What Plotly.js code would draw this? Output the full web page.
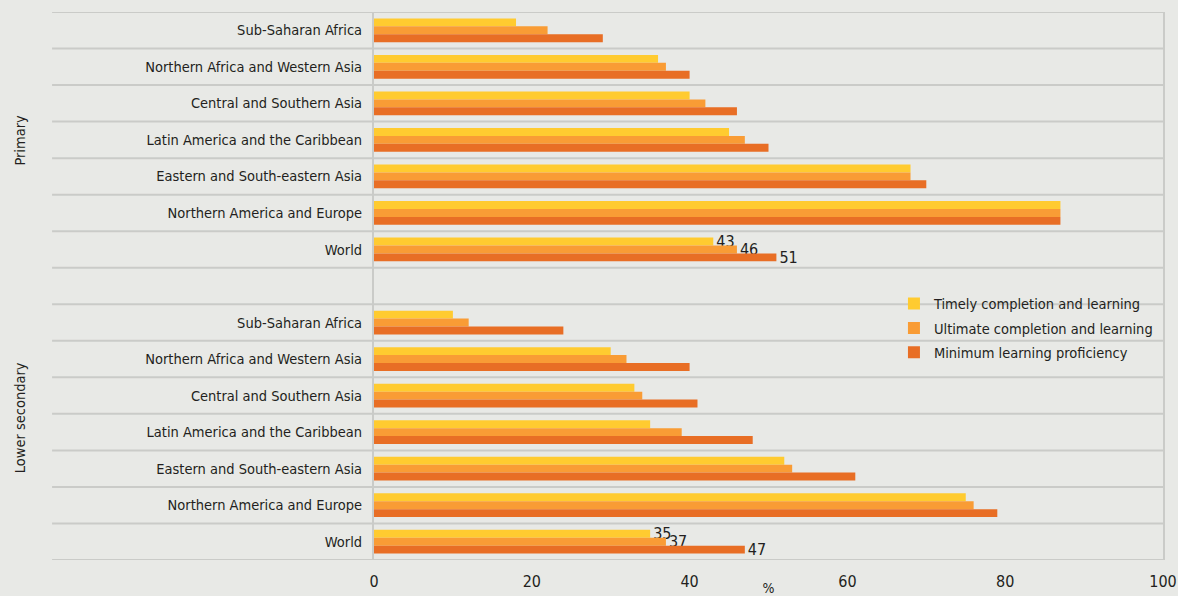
<!DOCTYPE html>
<html><head><meta charset="utf-8">
<script src="https://cdn.plot.ly/plotly-3.0.1.min.js"></script>
<style>html,body{margin:0;padding:0;background:#e8e9e6;}</style>
</head><body><div id="chart" style="width:1178px;height:596px;"></div>
<script>
const regions = ["Sub-Saharan Africa","Northern Africa and Western Asia","Central and Southern Asia","Latin America and the Caribbean","Eastern and South-eastern Asia","Northern America and Europe","World"];
const levels = ["Primary","Lower secondary"];
const seriesNames = ["Timely completion and learning","Ultimate completion and learning","Minimum learning proficiency"];
const primaryTimely   = [18,36,40,45,68,87,43];
const primaryUltimate = [22,37,42,47,68,87,46];
const primaryMinimum  = [29,40,46,50,70,87,51];
const lowerTimely     = [10,30,33,35,52,75,35];
const lowerUltimate   = [12,32,34,39,53,76,37];
const lowerMinimum    = [24,40,41,48,61,79,47];
const xTicks = [0,20,40,60,80,100];
const labelledRegion = "World";

const colors = ["#ffcb30","#f99c35","#e86e25"];
const labelFont = "DejaVu Sans Condensed, DejaVu Sans, sans-serif";
const numFont = "DejaVu Sans Condensed, DejaVu Sans, sans-serif";
const textColor = "#231f20";
const gridColor = "#cacbc8";

const bySeries = [
  [primaryTimely, lowerTimely],
  [primaryUltimate, lowerUltimate],
  [primaryMinimum, lowerMinimum]
];
const step = regions.length + 1;
const rowPos = [], rowText = [];
levels.forEach((lv, li) => regions.forEach((r, i) => { rowPos.push(li*step + i); rowText.push(r); }));
const lastRow = rowPos[rowPos.length - 1];

const traces = seriesNames.map((name, s) => {
  const x = [].concat(...bySeries[s]);
  const txt = x.map((v, k) => rowText[k] === labelledRegion ? String(v) : "");
  return {
    type: "bar", orientation: "h", name: name, legendgroup: "g" + s,
    x: x, y: rowPos, text: txt, textposition: "outside", cliponaxis: false,
    constraintext: "none",
    textfont: {family: numFont, size: 16, color: textColor},
    marker: {color: colors[s], line: {width: 0}},
    hoverinfo: "x+name"
  };
});

const shapes = [];
for (let k = 0; k <= lastRow + 1; k++) {
  shapes.push({type: "line", xref: "paper", yref: "y", x0: -0.408, x1: 1, y0: k - 0.5, y1: k - 0.5,
    line: {color: gridColor, width: 2}, layer: "below"});
}

const annotations = [
  {text: levels[0], xref: "paper", yref: "y", x: -0.449, xanchor: "center", y: (regions.length-1)/2, textangle: -90, showarrow: false,
   font: {family: labelFont, size: 14.5, color: textColor}},
  {text: levels[1], xref: "paper", yref: "y", x: -0.449, xanchor: "center", y: step + (regions.length-1)/2 - 0.4, textangle: -90, showarrow: false,
   font: {family: labelFont, size: 14.5, color: textColor}}
];

const layout = {
  width: 1178, height: 596,
  margin: {l: 374, r: 15, t: 12, b: 36, autoexpand: false},
  paper_bgcolor: "#e8e9e6", plot_bgcolor: "#e8e9e6",
  barmode: "group", bargap: 0.35, bargroupgap: 0,
  showlegend: true,
  legend: {x: 0.659, y: 0.497, xanchor: "left", yanchor: "top", bgcolor: "rgba(0,0,0,0)",
    font: {family: labelFont, size: 14.5, color: textColor}, itemwidth: 30, tracegroupgap: 2.5},
  xaxis: {range: [0, 100], tickvals: xTicks, ticktext: xTicks.map(String), showgrid: false, zeroline: false,
    showline: false, ticks: "outside", ticklen: 7, tickcolor: "rgba(0,0,0,0)", automargin: false,
    tickfont: {family: numFont, size: 16, color: textColor},
    title: {text: "%", standoff: 5, font: {family: numFont, size: 14, color: textColor}}},
  yaxis: {range: [lastRow + 0.5, -0.5], tickvals: rowPos, ticktext: rowText, showgrid: false, zeroline: false,
    showline: true, linecolor: gridColor, linewidth: 2, mirror: true, ticks: "outside", ticklen: 7,
    tickcolor: "rgba(0,0,0,0)", automargin: false,
    tickfont: {family: labelFont, size: 14.5, color: textColor}},
  shapes: shapes, annotations: annotations,
  font: {family: labelFont, color: textColor}
};
Plotly.newPlot("chart", traces, layout, {displayModeBar: false, staticPlot: true});
</script></body></html>
